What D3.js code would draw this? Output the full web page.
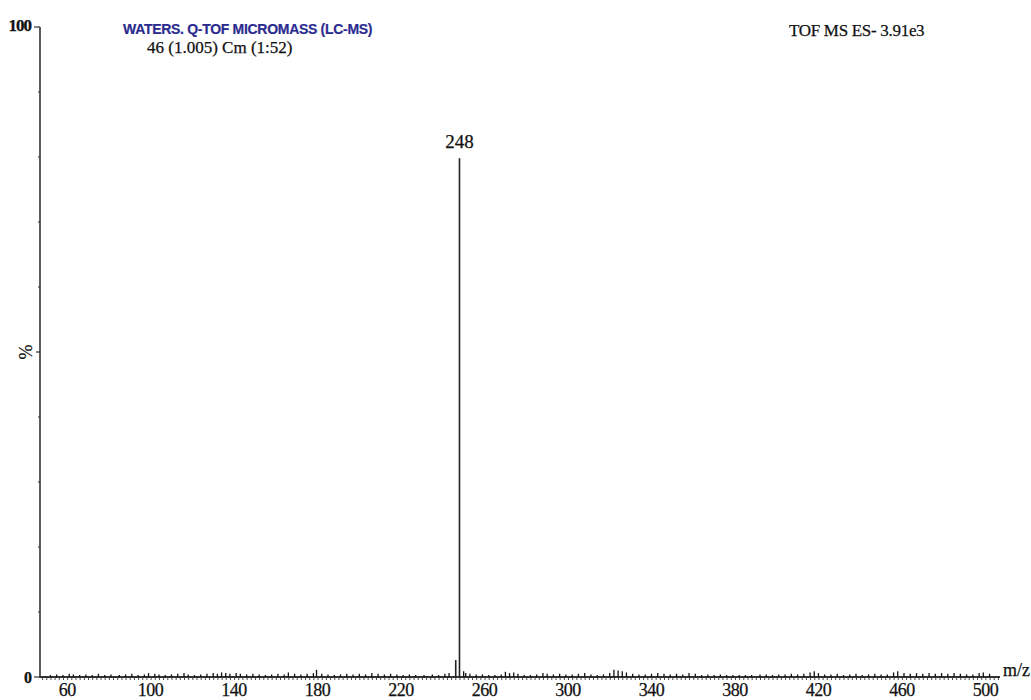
<!DOCTYPE html>
<html>
<head>
<meta charset="utf-8">
<script src="https://cdn.jsdelivr.net/npm/d3@7"></script>
<style>
  body { margin: 0; background: #fff; }
  svg text { font-family: "Liberation Serif", "DejaVu Serif", serif; fill: #111; stroke: #111; stroke-width: 0.25px; }
</style>
</head>
<body>
<div id="chart"></div>
<script>
// ---- data ----
const mainPeaks = [
    {mz: 248, intensity: 79.8, label: "248"},
    {mz: 246.2, intensity: 2.6, label: null}
];

// small baseline noise peaks [m/z, %]
const noisePeaks = [
    [52,0.3],[55,0.4],[58,0.3],[61,0.5],[63,0.4],[66,0.3],[69,0.4],[72,0.3],[75,0.5],[78,0.3],
    [81,0.4],[85,0.3],[88,0.4],[91,0.5],[94,0.3],[97,0.4],[99,0.6],[102,0.5],[104,0.4],[107,0.3],
    [110,0.4],[113,0.5],[116,0.6],[118,0.4],[121,0.3],[124,0.4],[127,0.5],[130,0.6],[132,0.5],[134,0.7],
    [136,0.6],[138,0.5],[141,0.6],[143,0.5],[146,0.4],[149,0.5],[152,0.4],[155,0.3],[158,0.4],[161,0.5],
    [164,0.4],[166,0.7],[169,0.5],[172,0.4],[175,0.5],[178,0.6],[179.5,1.1],[182,0.5],[185,0.4],[188,0.3],
    [191,0.4],[194,0.5],[197,0.4],[200,0.5],[203,0.4],[206,0.6],[209,0.5],[212,0.4],[215,0.5],[218,0.4],
    [221,0.3],[224,0.4],[227,0.3],[231,0.3],[235,0.4],[238,0.3],[241,0.5],[243,0.6],[250,0.9],[251,0.6],
    [253,0.5],[256,0.4],[259,0.4],[262,0.3],[265,0.3],[268,0.4],[270,0.8],[272,0.6],[274,0.7],[276,0.5],
    [279,0.3],[282,0.3],[285,0.4],[288,0.6],[290,0.5],[293,0.4],[296,0.5],[299,0.4],[302,0.4],[305,0.5],
    [308,0.6],[311,0.4],[314,0.3],[317,0.4],[320,0.6],[322,1.1],[324,1.0],[326,0.9],[328,0.7],[331,0.5],
    [334,0.4],[337,0.4],[340,0.5],[343,0.6],[346,0.5],[349,0.4],[352,0.5],[355,0.4],[358,0.6],[361,0.5],
    [364,0.3],[367,0.4],[370,0.3],[373,0.4],[376,0.3],[379,0.3],[382,0.3],[385,0.3],[388,0.3],[392,0.4],
    [395,0.4],[398,0.3],[401,0.4],[404,0.4],[407,0.5],[410,0.4],[413,0.5],[416,0.7],[418,0.9],[420,0.6],
    [423,0.4],[426,0.4],[429,0.5],[432,0.3],[435,0.4],[438,0.5],[441,0.3],[444,0.4],[447,0.5],[450,0.4],
    [453,0.4],[456,0.7],[458,0.9],[461,0.6],[464,0.5],[467,0.6],[470,0.5],[473,0.6],[476,0.5],[479,0.6],
    [482,0.5],[485,0.6],[488,0.5],[491,0.4],[494,0.4],[497,0.6],[499,0.7],[502,0.5]
];

const xLabelTicks = [60, 100, 140, 180, 220, 260, 300, 340, 380, 420, 460, 500];
const yTicks = [0, 10, 20, 30, 40, 50, 60, 70, 80, 90, 100];

const instrumentTitle = "WATERS. Q-TOF MICROMASS (LC-MS)";
const scanTitle = "46 (1.005) Cm (1:52)";
const modeTitle = "TOF MS ES- 3.91e3";

// ---- layout ----
const width = 1031, height = 700;
const margin = {top: 27, right: 31, bottom: 23, left: 40};

const svg = d3.select("#chart").append("svg")
    .attr("width", width)
    .attr("height", height);

const x = d3.scaleLinear()
    .domain([47, 507])
    .range([margin.left, width - margin.right]);

const y = d3.scaleLinear()
    .domain([0, 100])
    .range([height - margin.bottom, margin.top]);

const axisColor = "#333";

// y axis: small ticks every 10 %
svg.append("line")
    .attr("x1", x(47)).attr("x2", x(47))
    .attr("y1", y(100)).attr("y2", y(0) + 1)
    .attr("stroke", axisColor).attr("stroke-width", 1.6);

svg.selectAll(".ytick")
    .data(yTicks)
    .enter().append("line")
    .attr("class", "ytick")
    .attr("x1", d => (d === 0 || d === 100) ? x(47) - 6 : (d === 50 ? x(47) - 4 : x(47) - 2))
    .attr("x2", x(47))
    .attr("y1", d => y(d)).attr("y2", d => y(d))
    .attr("stroke", axisColor).attr("stroke-width", 1.2);

svg.append("text")
    .attr("x", x(47) - 9).attr("y", y(100) + 4)
    .attr("text-anchor", "end")
    .style("font-size", "17px").style("font-weight", "bold")
    .style("letter-spacing", "-1px")
    .text("100");

svg.append("text")
    .attr("x", x(47) - 8).attr("y", y(0) + 6)
    .attr("text-anchor", "end")
    .style("font-size", "16px").style("font-weight", "bold")
    .text("0");

svg.append("text")
    .attr("transform", "translate(" + [32, y(50)] + ") rotate(-90)")
    .attr("text-anchor", "middle")
    .style("font-size", "18px")
    .text("%");

// x axis: baseline with minor ticks every 2 units
svg.append("line")
    .attr("x1", x(47)).attr("x2", x(507))
    .attr("y1", y(0)).attr("y2", y(0))
    .attr("stroke", axisColor).attr("stroke-width", 1.8);

const xAxis = d3.axisBottom(x)
    .tickValues(d3.range(48, 507, 2))
    .tickSize(3)
    .tickFormat("");

svg.append("g")
    .attr("transform", "translate(0," + y(0) + ")")
    .call(xAxis)
    .call(g => g.select(".domain").remove())
    .call(g => g.selectAll("line").attr("stroke", axisColor).attr("stroke-width", 0.9));

svg.selectAll(".xlab")
    .data(xLabelTicks)
    .enter().append("text")
    .attr("class", "xlab")
    .attr("x", d => x(d))
    .attr("y", y(0) + 19)
    .attr("text-anchor", "middle")
    .style("font-size", "18px")
    .style("letter-spacing", "-0.5px")
    .text(d => d);

svg.append("text")
    .attr("x", x(507) + 3).attr("y", y(0) - 1)
    .style("font-size", "18px")
    .text("m/z");

// noise peaks
svg.selectAll(".noise")
    .data(noisePeaks)
    .enter().append("line")
    .attr("class", "noise")
    .attr("x1", d => x(d[0])).attr("x2", d => x(d[0]))
    .attr("y1", y(0)).attr("y2", d => y(d[1]))
    .attr("stroke", "#111").attr("stroke-width", 1.3);

// main peaks
svg.selectAll(".peak")
    .data(mainPeaks)
    .enter().append("line")
    .attr("class", "peak")
    .attr("x1", d => x(d.mz)).attr("x2", d => x(d.mz))
    .attr("y1", y(0)).attr("y2", d => y(d.intensity))
    .attr("stroke", "#222").attr("stroke-width", 1.6);

svg.selectAll(".peakLabel")
    .data(mainPeaks.filter(d => d.label))
    .enter().append("text")
    .attr("class", "peakLabel")
    .attr("x", d => x(d.mz))
    .attr("y", d => y(d.intensity) - 10)
    .attr("text-anchor", "middle")
    .style("font-size", "19px")
    .text(d => d.label);

// header texts
svg.append("text")
    .attr("x", 123).attr("y", 34)
    .style("font-family", "'Liberation Sans Narrow', 'Liberation Sans', Arial, sans-serif")
    .style("font-size", "14px").style("font-weight", "bold")
    .style("letter-spacing", "-0.3px")
    .style("fill", "#2b2b8f").style("stroke", "#2b2b8f").style("stroke-width", "0.2px")
    .text(instrumentTitle);

svg.append("text")
    .attr("x", 147).attr("y", 53)
    .style("font-size", "17px")
    .style("letter-spacing", "0px")
    .text(scanTitle);

svg.append("text")
    .attr("x", 789).attr("y", 36)
    .style("font-size", "17px")
    .style("letter-spacing", "-0.3px")
    .text(modeTitle);
</script>
</body>
</html>
